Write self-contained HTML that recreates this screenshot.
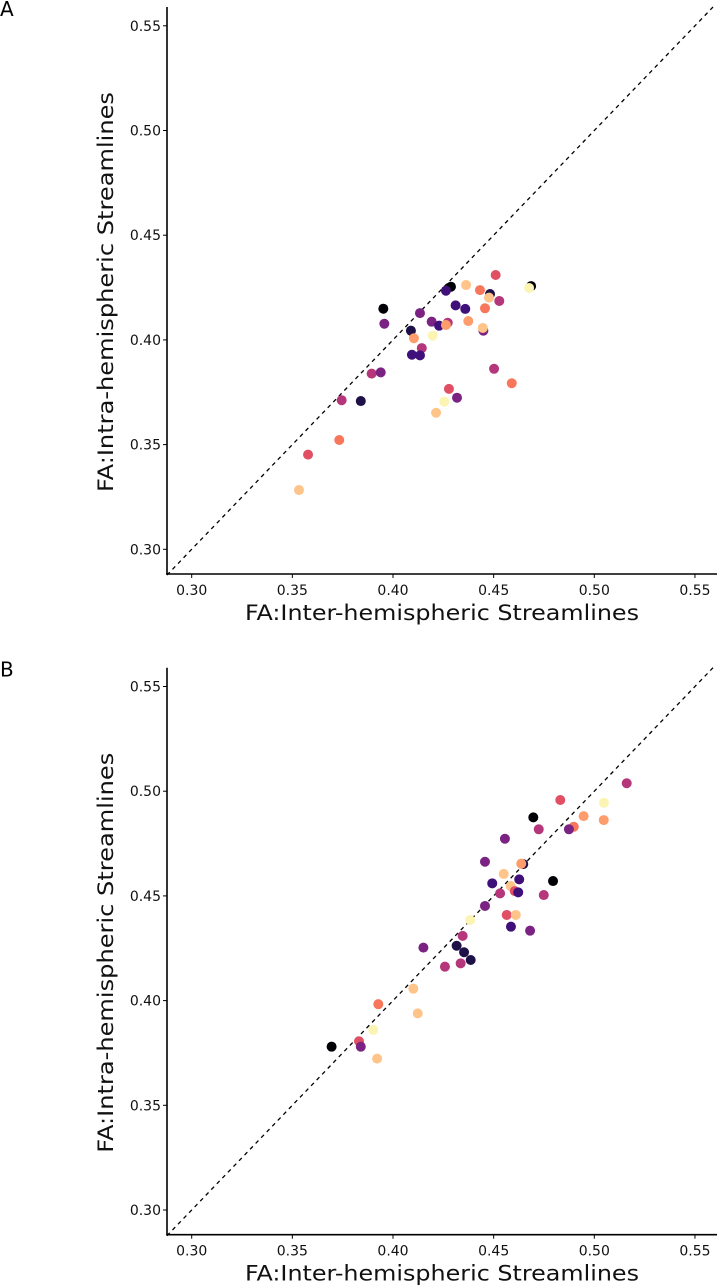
<!DOCTYPE html>
<html><head><meta charset="utf-8"><style>
html,body{margin:0;padding:0;background:#fff;}
svg{display:block;font-family:"DejaVu Sans","Liberation Sans",sans-serif;}
</style></head><body>
<svg id="fig" width="717" height="1287" viewBox="0 0 717 1287"></svg>
<script>
// ---- data ----
const tickValues = [0.30, 0.35, 0.40, 0.45, 0.50, 0.55];
const tickLabels = ["0.30", "0.35", "0.40", "0.45", "0.50", "0.55"];
const palette = ["#000004", "#1d1147", "#40107a", "#7a2382", "#b5367a", "#e04f64", "#f8765c", "#fd9d6c", "#fec48a", "#fbf4b3"];

const aInter = [0.3952,0.3957,0.4288,0.4263,0.4363,0.4510,0.4432,0.4482,0.4477,0.4528,0.4686,0.4676,0.4311,0.4359,0.4457,0.4134,0.4192,0.4229,0.4272,0.4263,0.4374,0.4449,0.4446,0.4089,0.4104,0.4197,0.4143,0.4094,0.4134,0.3894,0.3939,0.4502,0.4590,0.4278,0.4318,0.4255,0.4214,0.3840,0.3745,0.3733,0.3578,0.3533];
const aIntra = [0.4149,0.4077,0.4254,0.4235,0.4262,0.4310,0.4238,0.4219,0.4202,0.4186,0.4257,0.4248,0.4165,0.4148,0.4151,0.4128,0.4087,0.4068,0.4082,0.4071,0.4090,0.4044,0.4057,0.4044,0.4008,0.4020,0.3961,0.3929,0.3926,0.3839,0.3845,0.3862,0.3793,0.3766,0.3724,0.3705,0.3652,0.3708,0.3712,0.3522,0.3452,0.3283];
const aGroup = [0,3,0,2,8,5,6,1,8,4,0,9,2,2,6,3,3,2,4,7,7,3,8,1,7,9,4,2,2,4,3,4,6,5,3,9,8,1,4,6,5,8];

const bInter = [0.4457,0.4493,0.4532,0.4457,0.4383,0.5161,0.5048,0.5047,0.4947,0.4898,0.4874,0.4831,0.4697,0.4724,0.4556,0.4647,0.4637,0.4550,0.4627,0.4585,0.4795,0.4605,0.4622,0.4749,0.4565,0.4610,0.4586,0.4681,0.4346,0.4316,0.4353,0.4386,0.4151,0.4258,0.4336,0.4101,0.3927,0.4123,0.3902,0.3831,0.3840,0.3695,0.3921];
const bIntra = [0.4663,0.4560,0.4512,0.4452,0.4385,0.5038,0.4945,0.4862,0.4881,0.4830,0.4818,0.4958,0.4875,0.4818,0.4773,0.4652,0.4654,0.4605,0.4579,0.4547,0.4571,0.4523,0.4517,0.4504,0.4409,0.4409,0.4353,0.4334,0.4309,0.4262,0.4231,0.4194,0.4253,0.4162,0.4178,0.4057,0.3983,0.3939,0.3860,0.3806,0.3780,0.3780,0.3723];
const bGroup = [3,2,4,3,9,4,9,7,7,6,3,5,0,4,3,1,7,8,2,8,0,5,2,4,5,8,2,3,4,1,1,1,3,4,4,8,6,8,9,5,3,0,8];

// ---- drawing ----
const NS = "http://www.w3.org/2000/svg";
const svg = document.getElementById("fig");
function mk(tag, attrs, parent) {
  const e = document.createElementNS(NS, tag);
  for (const k in attrs) e.setAttribute(k, attrs[k]);
  (parent || svg).appendChild(e);
  return e;
}
const XMIN = 0.2877, XMAX = 0.5613;
function xScale(v) { return 191.7 + (v - 0.30) * 2013; }

function panel(letter, off, xs, ys, gs) {
  const yScale = v => off + 549.3 - (v - 0.30) * 2094;
  const g = mk("g", {});
  
  

  const lab = mk("text", {x: 0, y: off + 16, "font-size": 20, fill: "#000"}, g);
  lab.textContent = letter;
  
  

  const top = Math.min(XMAX, 0.30 + (549.3 - 7) / 2094);
  const diag = mk("line", {x1: xScale(XMIN), y1: yScale(XMIN), x2: xScale(top), y2: yScale(top),
    stroke: "#000", "stroke-width": 1.3, "stroke-dasharray": "4,4"}, g);
  
  

  for (let i = 0; i < xs.length; i++) {
    const c = mk("circle", {cx: xScale(xs[i]), cy: yScale(ys[i]), r: 5, fill: palette[gs[i]]}, g);
    
    
  }

  const yAxis = mk("line", {x1: 167, y1: off + 7, x2: 167, y2: off + 574.8, stroke: "#000", "stroke-width": 1.6}, g);
  
  
  const xAxis = mk("line", {x1: 166.2, y1: off + 574, x2: 717, y2: off + 574, stroke: "#000", "stroke-width": 1.6}, g);
  
  

  for (let i = 0; i < tickValues.length; i++) {
    const yy = yScale(tickValues[i]);
    const t1 = mk("line", {x1: 163, y1: yy, x2: 167, y2: yy, stroke: "#000", "stroke-width": 1}, g);
    
    
    const l1 = mk("text", {x: 161, y: yy + 5, "font-size": 14, "text-anchor": "end", fill: "#111"}, g);
    l1.textContent = tickLabels[i];
    
    

    const xx = xScale(tickValues[i]);
    const t2 = mk("line", {x1: xx, y1: off + 574, x2: xx, y2: off + 578, stroke: "#000", "stroke-width": 1}, g);
    
    
    const l2 = mk("text", {x: xx, y: off + 595, "font-size": 14, "text-anchor": "middle", fill: "#111"}, g);
    l2.textContent = tickLabels[i];
    
    
  }

  const xt = mk("text", {x: 442, y: off + 620, "font-size": 21, "text-anchor": "middle", fill: "#111",
    textLength: 394, lengthAdjust: "spacingAndGlyphs"}, g);
  xt.textContent = "FA:Inter-hemispheric Streamlines";
  
  
  const yt = mk("text", {x: 0, y: 0, "font-size": 21, "text-anchor": "middle", fill: "#111",
    textLength: 400, lengthAdjust: "spacingAndGlyphs",
    transform: "translate(113," + (off + 292) + ") rotate(-90)"}, g);
  yt.textContent = "FA:Intra-hemispheric Streamlines";
  
  
}
panel("A", 0, aInter, aIntra, aGroup);
panel("B", 660.7, bInter, bIntra, bGroup);
</script>
</body></html>
